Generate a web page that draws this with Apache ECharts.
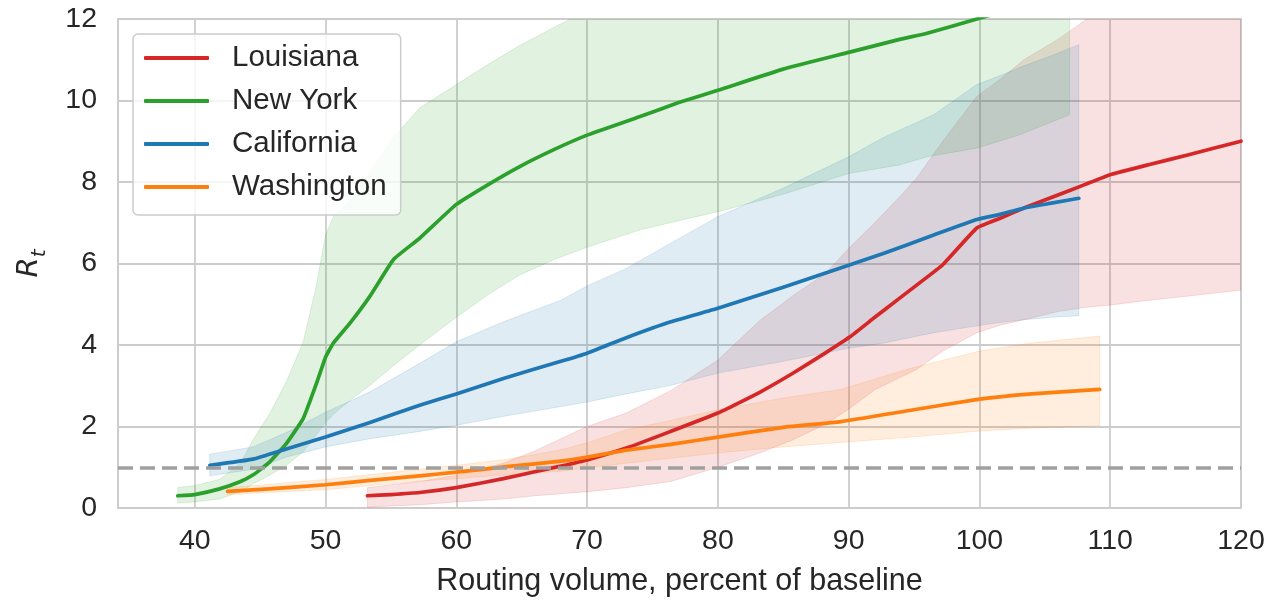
<!DOCTYPE html>
<html>
<head>
<meta charset="utf-8">
<script src="https://cdn.jsdelivr.net/npm/echarts@6/dist/echarts.min.js"></script>
<style>
  html, body { margin: 0; padding: 0; background: #fff; }
  #chart { width: 1273px; height: 602px; }
</style>
</head>
<body>
<div id="chart"></div>
<script>
// Rt vs routing volume (percent of baseline), median with uncertainty band per state

// Louisiana
const xLA  = [53.2, 55, 57.2, 60, 63.6, 66, 68, 70, 73, 76.4, 80, 83.2, 85.7, 88.2, 90.1, 92, 93.9, 95.2, 97.2, 99.8, 101.5, 103.4, 106, 108, 110, 113, 116, 120];
const rLA  = [0.3, 0.33, 0.38, 0.5, 0.72, 0.89, 1.03, 1.18, 1.47, 1.88, 2.33, 2.84, 3.3, 3.8, 4.2, 4.68, 5.15, 5.47, 5.97, 6.87, 7.1, 7.36, 7.68, 7.93, 8.18, 8.43, 8.67, 9.0];
const loLA = [0.02, 0.05, 0.08, 0.15, 0.22, 0.3, 0.35, 0.4, 0.5, 0.65, 1.0, 1.35, 1.67, 2.05, 2.45, 2.9, 3.2, 3.4, 3.85, 4.3, 4.48, 4.62, 4.82, 4.92, 4.98, 5.1, 5.2, 5.35];
const hiLA = [0.5, 0.57, 0.65, 0.8, 1.1, 1.4, 1.7, 2.0, 2.33, 2.88, 3.63, 4.6, 5.2, 5.75, 6.4, 7.0, 7.64, 8.1, 9.0, 10.1, 10.5, 11.0, 11.5, 11.95, 12.4, 13.0, 13.5, 14.0];

// New York
const xNY  = [38.7, 40, 41.9, 43.5, 44.5, 45.7, 47, 48.3, 49.3, 50, 50.6, 51.9, 53.4, 55.2, 57.2, 60, 62.5, 64.85, 67.5, 70, 74, 77, 80, 85, 90, 93.9, 96, 99.8, 103, 106.9];
const rNY  = [0.3, 0.33, 0.47, 0.65, 0.82, 1.12, 1.58, 2.2, 3.05, 3.7, 4.05, 4.55, 5.2, 6.1, 6.62, 7.45, 7.95, 8.38, 8.8, 9.15, 9.6, 9.95, 10.25, 10.77, 11.18, 11.5, 11.65, 12.0, 12.3, 12.6];
const loNY = [0.12, 0.15, 0.22, 0.4, 0.6, 0.8, 1.05, 1.38, 1.8, 2.1, 2.3, 2.65, 3.01, 3.5, 4.0, 4.68, 5.25, 5.72, 6.1, 6.4, 6.82, 7.05, 7.27, 7.7, 8.21, 8.42, 8.62, 8.83, 9.15, 9.65];
const hiNY = [0.5, 0.55, 0.7, 1.1, 1.7, 2.3, 3.1, 4.08, 5.47, 6.7, 7.15, 7.55, 8.25, 9.1, 9.82, 10.39, 10.9, 11.35, 11.8, 12.2, 12.8, 13.3, 13.8, 14.5, 15.2, 15.7, 16.0, 16.5, 17.0, 17.5];

// California
const xCA  = [41.15, 44.45, 47, 50, 53.4, 57.2, 60, 63.6, 68, 70, 73, 76.4, 80, 85, 90, 92.7, 96.5, 99.8, 101.5, 103.4, 105.5, 107.6];
const rCA  = [1.05, 1.2, 1.45, 1.74, 2.1, 2.52, 2.8, 3.18, 3.6, 3.8, 4.18, 4.57, 4.9, 5.42, 5.96, 6.25, 6.7, 7.08, 7.2, 7.36, 7.48, 7.6];
const loCA = [0.79, 0.95, 1.25, 1.5, 1.7, 1.88, 2.03, 2.25, 2.49, 2.6, 2.8, 3.01, 3.31, 3.6, 3.92, 4.05, 4.3, 4.47, 4.55, 4.62, 4.68, 4.72];
const hiCA = [1.32, 1.5, 1.85, 2.35, 2.85, 3.55, 4.08, 4.57, 5.1, 5.45, 5.88, 6.5, 7.15, 7.85, 8.62, 9.1, 9.65, 10.39, 10.6, 10.85, 11.1, 11.37];

// Washington
const xWA  = [42.5, 45.7, 50, 53.4, 57.2, 60, 64, 68, 70, 73, 76.4, 80, 85, 89.4, 94.4, 100, 104, 109.2];
const rWA  = [0.41, 0.47, 0.57, 0.68, 0.79, 0.88, 1.02, 1.15, 1.25, 1.42, 1.56, 1.74, 1.98, 2.12, 2.38, 2.67, 2.8, 2.91];
const loWA = [0.33, 0.38, 0.45, 0.55, 0.66, 0.72, 0.82, 0.9, 0.98, 1.1, 1.22, 1.35, 1.5, 1.61, 1.73, 1.89, 1.96, 2.02];
const hiWA = [0.5, 0.58, 0.7, 0.82, 0.95, 1.05, 1.2, 1.43, 1.6, 1.92, 2.15, 2.41, 2.7, 2.91, 3.4, 3.85, 4.05, 4.22];

const REF_R = 1;           // epidemic threshold
const X_MIN = 34.13, X_MAX = 120;
const Y_MIN = 0, Y_MAX = 12;

const FONT = '"Liberation Sans", Arial, sans-serif';
const TEXT = '#262626';
const GRID = '#cccccc';

const states = [
  { name: 'Louisiana',  color: '#d62728', x: xLA, r: rLA, lo: loLA, hi: hiLA },
  { name: 'New York',   color: '#2ca02c', x: xNY, r: rNY, lo: loNY, hi: hiNY },
  { name: 'California', color: '#1f77b4', x: xCA, r: rCA, lo: loCA, hi: hiCA },
  { name: 'Washington', color: '#ff7f0e', x: xWA, r: rWA, lo: loWA, hi: hiWA }
];

// Shaded interval drawn as one polygon through the axis scales
function bandSeries(s) {
  return {
    type: 'custom',
    name: s.name + ' interval',
    coordinateSystem: 'cartesian2d',
    clip: true,
    silent: true,
    z: 1,
    data: s.x.map((x, i) => [x, s.lo[i], s.hi[i]]),
    encode: { x: 0, y: [1, 2] },
    renderItem: function (params, api) {
      if (params.dataIndex !== 0) return null;
      const upper = s.x.map((x, i) => api.coord([x, s.hi[i]]));
      const lower = s.x.map((x, i) => api.coord([x, s.lo[i]])).reverse();
      return {
        type: 'polygon',
        shape: { points: upper.concat(lower) },
        style: { fill: s.color, stroke: s.color, lineWidth: 1, opacity: 0.14 }
      };
    }
  };
}

function lineSeries(s) {
  return {
    type: 'line',
    name: s.name,
    data: s.x.map((x, i) => [x, s.r[i]]),
    symbol: 'none',
    showSymbol: false,
    smooth: 0.12,
    clip: true,
    z: 3,
    itemStyle: { color: s.color },
    lineStyle: { color: s.color, width: 3.7, cap: 'round', join: 'round' }
  };
}

const series = [];
states.forEach(s => series.push(bandSeries(s)));
series.push({
  type: 'line',
  name: 'threshold',
  data: [],
  z: 2,
  silent: true,
  markLine: {
    silent: true,
    symbol: 'none',
    label: { show: false },
    lineStyle: { color: '#a0a0a0', width: 3.6, type: [15, 7] },
    data: [{ yAxis: REF_R }]
  }
});
states.forEach(s => series.push(lineSeries(s)));

const chart = echarts.init(document.getElementById('chart'), null, { renderer: 'canvas' });
chart.setOption({
  animation: false,
  backgroundColor: '#ffffff',
  grid: {
    left: 118, right: 32, top: 19, bottom: 93,
    show: true, borderColor: GRID, borderWidth: 1.8, backgroundColor: 'transparent'
  },
  legend: {
    data: states.map(s => s.name),
    orient: 'vertical',
    left: 133, top: 34,
    icon: 'roundRect',
    itemWidth: 65, itemHeight: 4,
    itemGap: 11,
    padding: [8, 14, 12, 11],
    backgroundColor: 'rgba(255,255,255,0.8)',
    borderColor: GRID, borderWidth: 1.5, borderRadius: 5,
    selectedMode: false,
    z: 10,
    textStyle: { fontFamily: FONT, fontSize: 29.5, color: TEXT, lineHeight: 32, padding: [0, 0, 0, 18] }
  },
  xAxis: {
    type: 'value',
    min: X_MIN, max: X_MAX,
    minInterval: 10, maxInterval: 10,
    axisLine: { show: false },
    axisTick: { show: false },
    axisLabel: { showMinLabel: false, margin: 19, fontFamily: FONT, fontSize: 28.5, color: TEXT },
    splitLine: { show: true, lineStyle: { color: GRID, width: 1.8 } },
    name: 'Routing volume, percent of baseline',
    nameLocation: 'middle',
    nameGap: 58,
    nameTextStyle: { fontFamily: FONT, fontSize: 30.5, color: TEXT }
  },
  yAxis: {
    type: 'value',
    min: Y_MIN, max: Y_MAX, interval: 2,
    axisLine: { show: false },
    axisTick: { show: false },
    axisLabel: { margin: 21, fontFamily: FONT, fontSize: 28.5, color: TEXT },
    splitLine: { show: true, lineStyle: { color: GRID, width: 1.8 } },
    name: '{r|R}{s|t}',
    nameLocation: 'middle',
    nameRotate: 90,
    nameGap: 68,
    nameTextStyle: {
      rich: {
        r: { fontFamily: '"DejaVu Sans", sans-serif', fontStyle: 'italic', fontSize: 29, color: TEXT, verticalAlign: 'bottom', lineHeight: 38, padding: [0, 0, 6, 0] },
        s: { fontFamily: '"DejaVu Sans", sans-serif', fontStyle: 'italic', fontSize: 20, color: TEXT, verticalAlign: 'bottom', lineHeight: 38 }
      }
    }
  },
  series: series
});
</script>
</body>
</html>
